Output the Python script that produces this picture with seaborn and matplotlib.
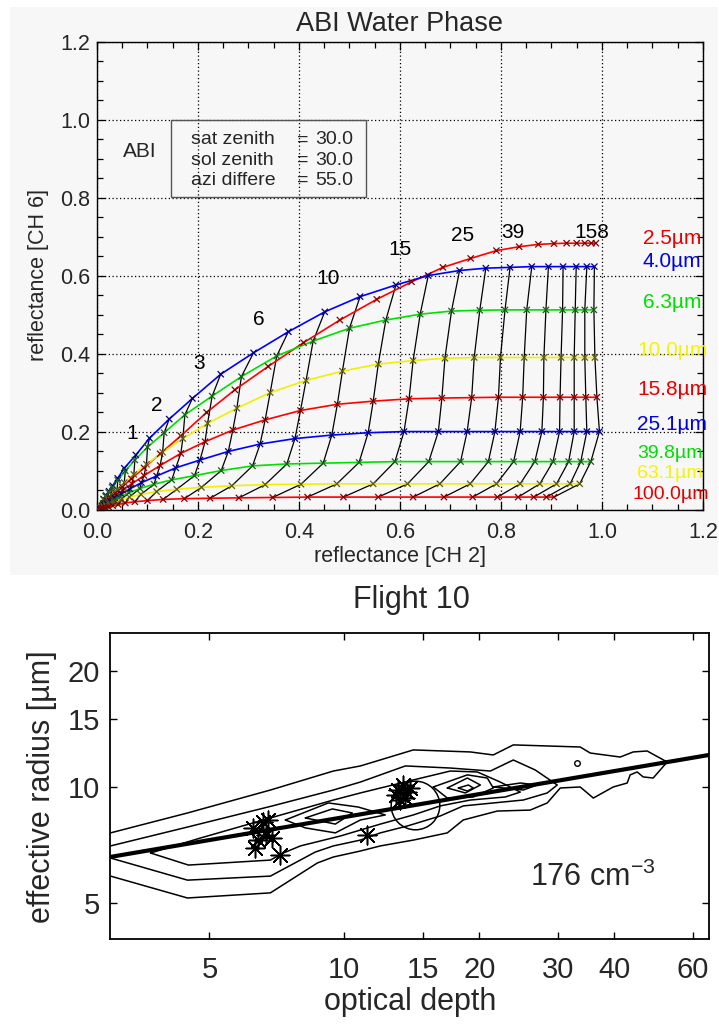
"""
ABI water phase LUT (CH2 vs CH6 reflectance) + Flight 10 effective radius vs optical depth
"""

import pandas as pd
import matplotlib.pyplot as plt
import seaborn as sns
from matplotlib.patches import Rectangle
from matplotlib.ticker import MultipleLocator, NullLocator

# ---------------- top panel: LUT ----------------
# optical depth grid (0 = origin)
tau = [0, 0.5, 0.63, 0.79, 1.0, 1.26, 1.58, 2.0, 2.5, 3.16, 4.0, 5.0, 6.3, 7.9, 10,
       12.6, 15.8, 20, 25.1, 31.6, 39.8, 50, 63, 79, 100, 126, 158]

radii = ['2.5', '4.0', '6.3', '10.0', '15.8', '25.1', '39.8', '63.1', '100.0']

ch2_025 = [0, 0.020, 0.027, 0.037, 0.050, 0.068, 0.093, 0.125, 0.166, 0.217, 0.273, 0.339, 0.409, 0.481,
           0.554, 0.623, 0.685, 0.740, 0.791, 0.836, 0.874, 0.905, 0.930, 0.950, 0.966, 0.979, 0.988]
ch6_025 = [0, 0.024, 0.032, 0.044, 0.059, 0.080, 0.108, 0.144, 0.190, 0.250, 0.308, 0.368, 0.429, 0.487,
           0.540, 0.585, 0.622, 0.645, 0.665, 0.675, 0.681, 0.683, 0.684, 0.684, 0.684, 0.684, 0.684]
ch2_040 = [0, 0.013, 0.018, 0.024, 0.031, 0.041, 0.054, 0.077, 0.104, 0.143, 0.189, 0.245, 0.310, 0.379,
           0.451, 0.521, 0.592, 0.656, 0.718, 0.770, 0.818, 0.861, 0.894, 0.923, 0.949, 0.970, 0.985]
ch6_040 = [0, 0.028, 0.037, 0.048, 0.062, 0.081, 0.107, 0.141, 0.184, 0.233, 0.286, 0.348, 0.403, 0.457,
           0.508, 0.547, 0.577, 0.601, 0.614, 0.620, 0.622, 0.624, 0.624, 0.624, 0.624, 0.624, 0.624]
ch2_063 = [0, 0.013, 0.017, 0.023, 0.030, 0.041, 0.056, 0.075, 0.100, 0.133, 0.174, 0.228, 0.286, 0.356,
           0.428, 0.500, 0.572, 0.640, 0.702, 0.758, 0.808, 0.851, 0.889, 0.922, 0.947, 0.966, 0.984]
ch6_063 = [0, 0.027, 0.035, 0.045, 0.058, 0.076, 0.100, 0.128, 0.161, 0.198, 0.244, 0.292, 0.342, 0.395,
           0.433, 0.466, 0.487, 0.502, 0.510, 0.512, 0.513, 0.513, 0.513, 0.513, 0.513, 0.513, 0.513]
ch2_100 = [0, 0.012, 0.016, 0.021, 0.029, 0.040, 0.054, 0.073, 0.098, 0.130, 0.170, 0.219, 0.277, 0.343,
           0.414, 0.486, 0.557, 0.626, 0.689, 0.747, 0.799, 0.846, 0.885, 0.919, 0.945, 0.966, 0.986]
ch6_100 = [0, 0.017, 0.022, 0.030, 0.040, 0.053, 0.070, 0.091, 0.117, 0.148, 0.183, 0.222, 0.261, 0.301,
           0.332, 0.356, 0.374, 0.383, 0.389, 0.391, 0.391, 0.391, 0.391, 0.391, 0.391, 0.391, 0.391]
ch2_158 = [0, 0.011, 0.015, 0.021, 0.028, 0.038, 0.051, 0.069, 0.093, 0.125, 0.166, 0.214, 0.269, 0.333,
           0.403, 0.476, 0.547, 0.618, 0.683, 0.742, 0.795, 0.843, 0.884, 0.917, 0.945, 0.968, 0.990]
ch6_158 = [0, 0.012, 0.016, 0.022, 0.029, 0.038, 0.051, 0.067, 0.088, 0.114, 0.145, 0.175, 0.205, 0.231,
           0.255, 0.271, 0.279, 0.285, 0.287, 0.288, 0.289, 0.289, 0.289, 0.289, 0.289, 0.289, 0.289]
ch2_251 = [0, 0.010, 0.014, 0.019, 0.026, 0.035, 0.048, 0.065, 0.088, 0.118, 0.156, 0.204, 0.260, 0.323,
           0.392, 0.465, 0.537, 0.608, 0.676, 0.733, 0.788, 0.838, 0.881, 0.916, 0.945, 0.970, 0.995]
ch6_251 = [0, 0.009, 0.013, 0.017, 0.023, 0.031, 0.041, 0.054, 0.070, 0.087, 0.108, 0.128, 0.150, 0.169,
           0.183, 0.192, 0.198, 0.201, 0.201, 0.201, 0.201, 0.201, 0.201, 0.201, 0.201, 0.201, 0.201]
ch2_398 = [0, 0.010, 0.013, 0.018, 0.025, 0.034, 0.046, 0.063, 0.085, 0.113, 0.148, 0.193, 0.246, 0.308,
           0.376, 0.448, 0.519, 0.590, 0.657, 0.720, 0.775, 0.825, 0.867, 0.903, 0.934, 0.958, 0.978]
ch6_398 = [0, 0.008, 0.010, 0.014, 0.019, 0.026, 0.034, 0.044, 0.055, 0.066, 0.077, 0.088, 0.101, 0.113,
           0.118, 0.120, 0.122, 0.124, 0.124, 0.124, 0.124, 0.124, 0.124, 0.124, 0.124, 0.124, 0.124]
ch2_631 = [0, 0.007, 0.010, 0.013, 0.018, 0.025, 0.034, 0.047, 0.064, 0.087, 0.118, 0.158, 0.207, 0.267,
           0.333, 0.404, 0.475, 0.547, 0.615, 0.679, 0.739, 0.791, 0.838, 0.877, 0.910, 0.937, 0.956]
ch6_631 = [0, 0.005, 0.006, 0.008, 0.011, 0.015, 0.020, 0.026, 0.033, 0.040, 0.047, 0.053, 0.058, 0.062,
           0.065, 0.066, 0.067, 0.067, 0.067, 0.067, 0.067, 0.067, 0.067, 0.067, 0.067, 0.067, 0.067]
ch2_1000 = [0, 0.007, 0.009, 0.012, 0.017, 0.023, 0.031, 0.042, 0.056, 0.075, 0.100, 0.131, 0.173, 0.224,
            0.281, 0.348, 0.417, 0.488, 0.557, 0.626, 0.687, 0.744, 0.793, 0.834, 0.865, 0.890, 0.905]
ch6_1000 = [0, 0.003, 0.004, 0.005, 0.006, 0.008, 0.011, 0.014, 0.018, 0.021, 0.024, 0.027, 0.029, 0.030,
            0.031, 0.032, 0.033, 0.033, 0.033, 0.033, 0.033, 0.033, 0.033, 0.033, 0.033, 0.033, 0.033]

ch2_all = [ch2_025, ch2_040, ch2_063, ch2_100, ch2_158, ch2_251, ch2_398, ch2_631, ch2_1000]
ch6_all = [ch6_025, ch6_040, ch6_063, ch6_100, ch6_158, ch6_251, ch6_398, ch6_631, ch6_1000]

line_colors = ['#ff0000', '#0000ff', '#00e000', '#f0f000', '#ff0000', '#0000ff', '#00e000', '#f0f000', '#ff0000']
mark_colors = ['#800000', '#000080', '#1a5c1a', '#5c5c14', '#800000', '#000080', '#1a5c1a', '#5c5c14', '#800000']
label_colors = ['#e80000', '#0000e0', '#00dd00', '#f5f500', '#e80000', '#0000e0', '#00dd00', '#f5f500', '#e80000']

# optical depth labels along the top curves
tau_labels = ['1', '2', '3', '6', '10', '15', '25', '39', '158']
tau_label_x = [0.069, 0.118, 0.203, 0.320, 0.458, 0.600, 0.723, 0.824, 0.980]
tau_label_y = [0.197, 0.269, 0.376, 0.489, 0.594, 0.667, 0.705, 0.711, 0.711]

# radius labels on the right
radius_labels = ['2.5µm', '4.0µm', '6.3µm', '10.0µm', '15.8µm', '25.1µm', '39.8µm', '63.1µm', '100.0µm']
radius_label_x = [1.081, 1.081, 1.081, 1.071, 1.071, 1.069, 1.069, 1.069, 1.061]
radius_label_y = [0.697, 0.636, 0.531, 0.408, 0.308, 0.218, 0.146, 0.094, 0.040]
radius_label_size = [15, 15, 15, 15, 15, 15, 14, 14, 14]

# geometry box text
geo_names = ['sat zenith', 'sol zenith', 'azi differe']
geo_values = ['30.0', '30.0', '55.0']
geo_y = [0.949, 0.897, 0.846]

# ---------------- bottom panel: Flight 10 ----------------
fit_tau = [3.0, 65.1]
fit_r = [6.58, 12.11]

c1_tau = [3.008, 4.466, 6.839, 9.451, 10.86, 14.25, 19.10, 21.49, 23.82, 33.59, 35.37, 41.26, 44.10,
          47.38, 52.51, 48.87, 46.42, 45.01, 43.42, 42.76, 39.80, 35.93, 33.59, 30.32, 28.36, 25.98,
          21.94, 18.42, 16.97, 14.25, 12.03, 10.86, 9.451, 8.707, 6.839, 4.466, 3.008]
c1_r = [7.60, 8.56, 9.82, 11.00, 11.34, 12.48, 12.33, 12.11, 12.86, 12.70, 12.25, 11.96, 12.33,
        12.40, 11.61, 10.55, 10.62, 10.94, 10.75, 10.24, 10.00, 9.36, 10.00, 9.94, 9.09, 8.71,
        8.66, 8.21, 7.60, 7.28, 7.03, 6.82, 6.58, 6.35, 5.31, 5.15, 5.87]
c2_tau = [3.008, 4.466, 6.910, 9.451, 10.86, 13.68, 17.23, 21.17, 23.82, 26.66, 29.85, 28.36, 25.07,
          18.42, 16.37, 13.82, 12.03, 10.86, 9.451, 8.617, 6.839, 4.466, 3.008]
c2_r = [7.03, 7.87, 8.93, 9.82, 10.30, 11.34, 11.20, 11.00, 11.75, 11.07, 10.12, 9.65, 9.25,
        8.93, 8.41, 7.92, 7.60, 7.28, 7.03, 6.78, 5.87, 5.73, 6.54]
c3_tau = [3.694, 4.774, 6.839, 9.451, 10.86, 14.25, 17.23, 19.80, 22.27, 24.69, 22.86, 19.10, 16.37,
          14.25, 12.03, 9.797, 7.979, 7.311, 6.839, 4.489]
c3_r = [6.74, 7.37, 8.31, 9.25, 9.65, 10.43, 11.00, 10.94, 10.30, 9.70, 9.42, 9.25, 8.93,
        8.46, 8.01, 7.46, 7.03, 6.74, 6.46, 6.27]
c4_tau = [7.386, 9.211, 10.74, 12.34, 10.86, 9.548, 8.185]
c4_r = [8.21, 9.09, 8.87, 8.46, 8.21, 7.60, 7.83]
c5_tau = [8.185, 9.402, 10.42, 9.548]
c5_r = [8.31, 8.77, 8.56, 8.01]
c6_tau = [15.79, 18.81, 20.84, 21.49, 19.40, 16.97]
c6_r = [10.00, 10.75, 10.55, 9.94, 9.42, 9.36]
c7_tau = [16.97, 18.81, 20.11, 18.62]
c7_r = [9.94, 10.55, 10.12, 9.65]
c8_tau = [17.96, 18.91, 19.40, 18.81]
c8_r = [9.94, 10.12, 9.94, 9.76]
c9_tau = [21.49, 24.69, 26.94, 25.07]
c9_r = [10.00, 10.24, 10.12, 9.82]

star_tau = [6.24, 6.57, 6.77, 6.67, 6.43, 6.91, 6.33, 7.20, 11.25,
            13.06, 13.20, 13.33, 13.54, 13.68, 13.82, 14.03]
star_r = [7.83, 8.11, 8.21, 7.50, 7.28, 7.37, 6.94, 6.66, 7.50,
          9.53, 9.82, 9.25, 10.12, 9.36, 9.70, 9.94]

circle_tau, circle_r = 14.4, 8.98
dot_tau, dot_r = 33.07, 11.54

# ---------------- tables ----------------
rows = []
for lab, xs, ys in zip(radii, ch2_all, ch6_all):
    for t, x, y in zip(tau, xs, ys):
        rows.append((lab, t, x, y))
lut = pd.DataFrame(rows, columns=['radius', 'tau', 'ch2', 'ch6'])
grid = lut[lut['radius'] != '2.5'].sort_values('tau', kind='stable')

cont_rows = []
open_contours = [('c1', c1_tau, c1_r), ('c2', c2_tau, c2_r)]
closed_contours = [('c3', c3_tau, c3_r), ('c4', c4_tau, c4_r), ('c5', c5_tau, c5_r),
                   ('c6', c6_tau, c6_r), ('c7', c7_tau, c7_r), ('c8', c8_tau, c8_r),
                   ('c9', c9_tau, c9_r)]
for name, ts, rs in open_contours:
    for i, (t, r) in enumerate(zip(ts, rs)):
        cont_rows.append((name, i, t, r))
for name, ts, rs in closed_contours:
    ts = ts + ts[:1]
    rs = rs + rs[:1]
    for i, (t, r) in enumerate(zip(ts, rs)):
        cont_rows.append((name, i, t, r))
cont = pd.DataFrame(cont_rows, columns=['level', 'i', 'tau', 'r'])

# ---------------- style ----------------
sns.set_theme(style='ticks')
plt.rcParams['font.family'] = ['Liberation Sans', 'DejaVu Sans']
plt.rcParams['mathtext.fontset'] = 'custom'
plt.rcParams['mathtext.rm'] = 'Liberation Sans'
plt.rcParams['mathtext.it'] = 'Liberation Sans:italic'
plt.rcParams['mathtext.default'] = 'regular'

fig = plt.figure(figsize=(7.19, 10.24), dpi=100)
fig.patch.set_facecolor('white')
panel_gray = '#f7f7f7'
fig.add_artist(Rectangle((0.014, 0.4385), 0.985, 0.5547, transform=fig.transFigure,
                         facecolor=panel_gray, edgecolor='none', zorder=-10))

# ---------------- top panel ----------------
ax1 = fig.add_axes([0.1349, 0.5020, 0.8428, 0.4570])
ax1.set_facecolor(panel_gray)

sns.lineplot(data=grid, x='ch2', y='ch6', units='tau', estimator=None, sort=False,
             color='black', lw=0.9, legend=False, ax=ax1, zorder=2)
sns.lineplot(data=lut, x='ch2', y='ch6', hue='radius', palette=dict(zip(radii, line_colors)),
             estimator=None, sort=False, lw=1.2, legend=False, ax=ax1, zorder=2.5)
sns.scatterplot(data=lut, x='ch2', y='ch6', hue='radius', palette=dict(zip(radii, mark_colors)),
                marker='x', s=20, linewidth=0.9, legend=False, ax=ax1, zorder=3)

ax1.set_xlim(0, 1.2)
ax1.set_ylim(0, 1.2)
ax1.xaxis.set_major_locator(MultipleLocator(0.2))
ax1.yaxis.set_major_locator(MultipleLocator(0.2))
ax1.xaxis.set_minor_locator(MultipleLocator(0.05))
ax1.yaxis.set_minor_locator(MultipleLocator(0.05))
ax1.xaxis.set_major_formatter(plt.FormatStrFormatter('%.1f'))
ax1.yaxis.set_major_formatter(plt.FormatStrFormatter('%.1f'))
ax1.grid(True, which='major', color='black', ls=(0, (1, 2)), lw=0.9)
ax1.set_axisbelow(True)
ax1.tick_params(which='both', direction='in', top=True, right=True, color='black', width=0.9)
ax1.tick_params(which='major', length=6, labelsize=15.5)
ax1.tick_params(which='minor', length=4)
ax1.tick_params(axis='x', pad=9)
ax1.tick_params(axis='y', pad=5)
for sp in ax1.spines.values():
    sp.set_color('black')
    sp.set_linewidth(1.0)
ax1.set_xlabel('')
ax1.set_ylabel('')

for lab, x, y in zip(tau_labels, tau_label_x, tau_label_y):
    ax1.text(x, y, lab, fontsize=15, ha='center', va='center', color='black', zorder=5)
for lab, x, y, c, fs in zip(radius_labels, radius_label_x, radius_label_y, label_colors, radius_label_size):
    ax1.text(x, y, lab, fontsize=fs, ha='left', va='center', color=c, zorder=5)

ax1.add_patch(Rectangle((0.147, 0.803), 0.386, 0.197, fill=False, edgecolor='#555555', lw=1.0, zorder=4))
ax1.text(0.084, 0.918, 'ABI', fontsize=15, ha='center', va='center')
for name, val, y in zip(geo_names, geo_values, geo_y):
    ax1.text(0.186, y, name, fontsize=14, ha='left', va='center')
    ax1.text(0.408, y, '=', fontsize=14, ha='center', va='center')
    ax1.text(0.432, y, val, fontsize=14, ha='left', va='center')

fig.text(0.555, 0.9697, 'ABI Water Phase', fontsize=19.5, ha='center', va='baseline')
fig.text(0.556, 1 - 562 / 1024, 'reflectance [CH 2]', fontsize=15.5, ha='center', va='baseline')
fig.text(0.0529, 0.7314, 'reflectance [CH 6]', fontsize=15.5, ha='center', va='center', rotation=90)

# ---------------- bottom panel ----------------
ax2 = fig.add_axes([0.1530, 0.0830, 0.8331, 0.2988])
ax2.set_facecolor('white')
ax2.set_xscale('log')
ax2.set_yscale('log')

sns.lineplot(data=cont, x='tau', y='r', units='level', estimator=None, sort=False,
             color='black', lw=1.1, legend=False, ax=ax2)
sns.lineplot(x=fit_tau, y=fit_r, color='black', lw=3.0, ax=ax2)
sns.scatterplot(x=star_tau, y=star_r, marker=(8, 2, 0), s=180, color='black',
                linewidth=1.1, legend=False, ax=ax2, zorder=4)
ax2.plot([circle_tau], [circle_r], 'o', ms=35, mfc='none', mec='black', mew=1.1)
ax2.plot([dot_tau], [dot_r], 'o', ms=4, mfc='none', mec='black', mew=1.0)

ax2.set_xlim(3.0, 65.1)
ax2.set_ylim(4.03, 25.1)
ax2.set_xticks([5, 10, 15, 20, 30, 40, 60])
ax2.set_xticklabels(['5', '10', '15', '20', '30', '40', '60'])
ax2.set_yticks([5, 10, 15, 20])
ax2.set_yticklabels(['5', '10', '15', '20'])
ax2.xaxis.set_minor_locator(NullLocator())
ax2.yaxis.set_minor_locator(NullLocator())
ax2.tick_params(which='major', direction='in', top=True, right=True, length=5, width=1.0,
                labelsize=21, color='black')
ax2.tick_params(axis='x', pad=12)
ax2.tick_params(axis='y', pad=7)
for sp in ax2.spines.values():
    sp.set_color('black')
    sp.set_linewidth(1.3)
ax2.set_xlabel('')
ax2.set_ylabel('')
ax2.text(0.701, 0.20, '176 cm$^{-3}$', transform=ax2.transAxes, fontsize=22, ha='left', va='center')

fig.text(0.5716, 0.4063, 'Flight 10', fontsize=22, ha='center', va='baseline')
fig.text(0.570, 1 - 1010 / 1024, 'optical depth', fontsize=22, ha='center', va='baseline')
fig.text(0.0584, 0.2314, 'effective radius [µm]', fontsize=22, ha='center', va='center', rotation=90)

plt.savefig('out.png', dpi=100)
plt.close()
